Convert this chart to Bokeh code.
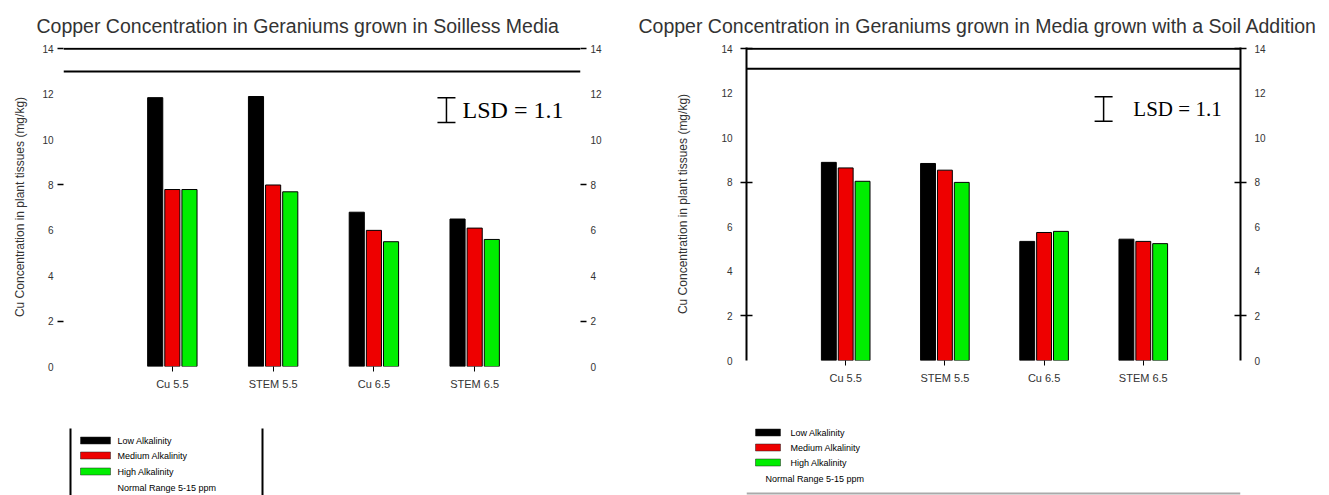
from bokeh.plotting import figure
from bokeh.models import FixedTicker, Span, Whisker, TeeHead, ColumnDataSource, LinearAxis, Range1d
from bokeh.layouts import row, column
from bokeh.embed import file_html
from bokeh.resources import INLINE
from bokeh.core.properties import value

# ---------------- data ----------------
categories = ["Cu 5.5", "STEM 5.5", "Cu 6.5", "STEM 6.5"]
series = ["Low Alkalinity", "Medium Alkalinity", "High Alkalinity"]
colors = ["#000000", "#ee0000", "#00ee00"]

soilless_low = [11.85, 11.9, 6.8, 6.5]
soilless_med = [7.8, 8.0, 6.0, 6.1]
soilless_high = [7.8, 7.7, 5.5, 5.6]

soil_low = [8.9, 8.85, 5.35, 5.45]
soil_med = [8.65, 8.55, 5.75, 5.35]
soil_high = [8.05, 8.0, 5.8, 5.25]

y_ticks = [0, 2, 4, 6, 8, 10, 12, 14]
y_marks = [2, 8, 14]
soilless_lines = [14, 13]
soil_lines = [14, 13.1]
lsd_value = 1.1
lsd_top = 11.85
note = "Normal Range 5-15 ppm"

title_left = "Copper Concentration in Geraniums grown in Soilless Media"
title_right = "Copper Concentration in Geraniums grown in Media grown with a Soil Addition"
y_label = "Cu Concentration in plant tissues (mg/kg)"

SANS = "Liberation Sans"
SERIF = "Liberation Serif"
TXT = "#333333"


def make_chart(width, height, borders, x_range, values, lines, title, title_offset,
               show_axis_lines, label_standoff, axis_label_standoff, lsd_x, lsd_text_x, lsd_size):
    left, right, top, bottom = borders
    p = figure(width=width, height=height, output_backend="svg", toolbar_location=None,
               x_range=Range1d(*x_range), y_range=Range1d(0, 14.06),
               min_border_left=left, min_border_right=right,
               min_border_top=top, min_border_bottom=bottom,
               y_axis_location=None)
    p.outline_line_color = None
    p.grid.visible = False
    p.background_fill_color = "white"
    p.border_fill_color = "white"

    xs = [i + 1 for i in range(len(categories))]
    offsets = [-0.17, 0.0, 0.17]
    for vals, off, col in zip(values, offsets, colors):
        src = ColumnDataSource(dict(x=[x + off for x in xs], top=vals))
        p.vbar(x="x", top="top", bottom=0, width=0.15, source=src,
               fill_color=col, line_color="black", line_width=1)

    for yv in lines:
        p.add_layout(Span(location=yv, dimension="width", line_color="black", line_width=2))

    # LSD bar
    lsd_src = ColumnDataSource(dict(base=[lsd_x], lower=[lsd_top - lsd_value], upper=[lsd_top]))
    p.add_layout(Whisker(base="base", lower="lower", upper="upper", source=lsd_src,
                         dimension="height", line_color="black", line_width=1.5,
                         upper_head=TeeHead(size=18, line_width=1.5, line_color="black"),
                         lower_head=TeeHead(size=18, line_width=1.5, line_color="black")))
    p.text(x=[lsd_text_x], y=[lsd_top - lsd_value / 2], text=["LSD = %.1f" % lsd_value],
           text_font=value(SERIF), text_font_size=lsd_size, text_baseline="middle",
           text_color="black")

    # x axis
    xa = p.xaxis[0]
    xa.ticker = FixedTicker(ticks=xs)
    xa.major_label_overrides = {x: c for x, c in zip(xs, categories)}
    xa.axis_line_color = None
    xa.major_tick_line_color = "black"
    xa.major_tick_out = 5
    xa.major_tick_in = 0
    xa.minor_tick_line_color = None
    xa.major_label_text_font = SANS
    xa.major_label_text_font_size = "11px"
    xa.major_label_text_color = TXT
    xa.major_label_standoff = 6

    for side in ("left", "right"):
        ax = LinearAxis(ticker=FixedTicker(ticks=y_ticks, minor_ticks=y_marks))
        ax.major_tick_line_color = None
        ax.major_tick_out = 6
        ax.major_tick_in = 0
        ax.minor_tick_line_color = "black"
        ax.minor_tick_line_width = 1.5
        ax.minor_tick_out = 6
        ax.minor_tick_in = 6 if show_axis_lines else 0
        ax.major_label_text_font = SANS
        ax.major_label_text_font_size = "10px"
        ax.major_label_text_color = TXT
        ax.major_label_standoff = label_standoff
        if show_axis_lines:
            ax.axis_line_color = "black"
            ax.axis_line_width = 2
        else:
            ax.axis_line_color = None
        if side == "left":
            ax.axis_label = y_label
            ax.axis_label_text_font = SANS
            ax.axis_label_text_font_size = "12px"
            ax.axis_label_text_font_style = "normal"
            ax.axis_label_text_color = TXT
            ax.axis_label_standoff = axis_label_standoff
        p.add_layout(ax, side)

    p.title.text = title
    p.title.text_font = SANS
    p.title.text_font_size = "19.5px"
    p.title.text_font_style = "normal"
    p.title.text_color = TXT
    p.title.align = "left"
    p.title.offset = title_offset
    p.title.standoff = 22
    return p


def make_legend(width, height, borders, frame_x, box_lines, sw_x, sw_w, txt_x, rows_y,
                note_x, note_y, bottom_rule):
    # frame aligned with the chart above; x data units are page pixels
    lg = figure(width=width, height=height, output_backend="svg", toolbar_location=None,
                x_range=Range1d(*frame_x), y_range=Range1d(height, 0),
                min_border_left=borders[0], min_border_right=borders[1],
                min_border_top=0, min_border_bottom=0,
                x_axis_location=None, y_axis_location=None)
    lg.outline_line_color = None
    lg.grid.visible = False
    lg.axis.visible = False
    if box_lines:
        for bx in box_lines:
            lg.segment(x0=[bx], y0=[28], x1=[bx], y1=[height], line_color="black", line_width=2)
    lg.rect(x=[sw_x] * 3, y=rows_y, width=sw_w, height=7, fill_color=colors,
            line_color="#222222", line_width=0.5)
    lg.text(x=[txt_x] * 3, y=rows_y, text=series, text_font=value(SANS),
            text_font_size="9px", text_baseline="middle", text_color="black")
    lg.text(x=[note_x], y=[note_y], text=[note], text_font=value(SANS),
            text_font_size="9px", text_baseline="middle", text_color="black")
    if bottom_rule is not None:
        lg.segment(x0=[frame_x[0]], y0=[bottom_rule], x1=[frame_x[1]], y1=[bottom_rule],
                   line_color="#aaaaaa", line_width=2)
    return lg


left_chart = make_chart(632, 400, (63, 52, 47, 34), (-0.08, 5.05),
                        [soilless_low, soilless_med, soilless_high], soilless_lines,
                        title_left, -27, False, 4, 12, 3.72, 3.88, "24px")
right_chart = make_chart(697, 400, (114, 89, 47, 40), (0.0, 4.98),
                         [soil_low, soil_med, soil_high], soil_lines,
                         title_right, -108, True, 8, 28, 3.6, 3.9, "21px")

left_legend = make_legend(632, 95, (63, 52), (63, 580), [70, 262], 95, 30, 117,
                          [40, 55, 71], 117, 87, None)
right_legend = make_legend(697, 95, (114, 89), (746, 1240), None, 767.5, 25, 790,
                           [32, 47, 62], 765, 78, 93)

layout = row(column(left_chart, left_legend), column(right_chart, right_legend))

open("out.html", "w").write(file_html(layout, INLINE))
